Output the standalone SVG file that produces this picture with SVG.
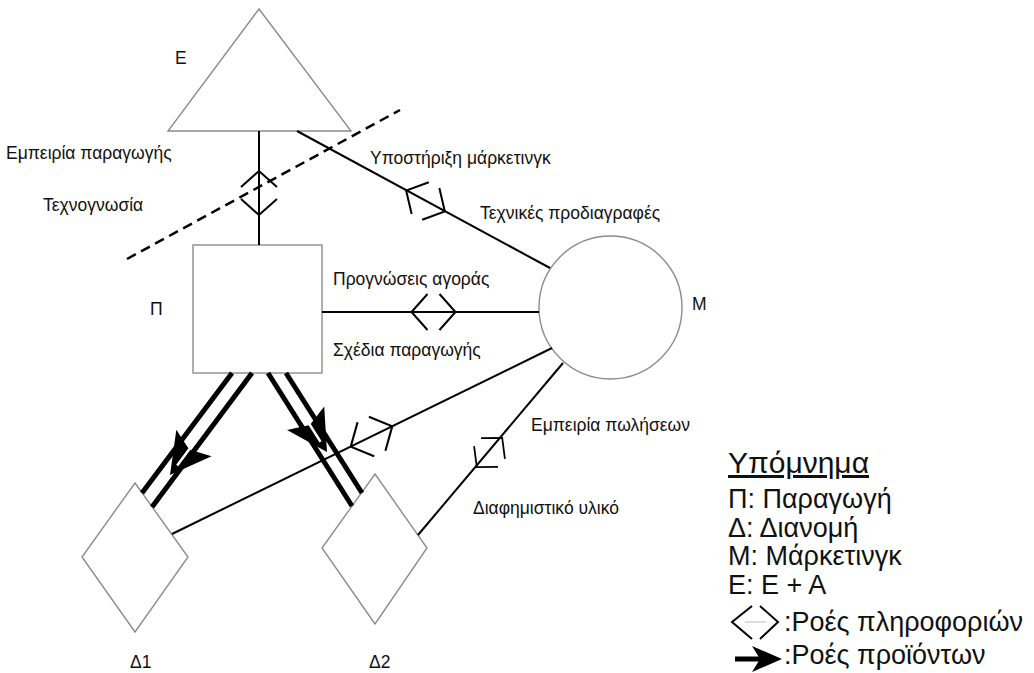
<svg xmlns="http://www.w3.org/2000/svg" width="1034" height="673" viewBox="0 0 1034 673">
<defs>
<style>
.node{fill:#fff;stroke:#8c8c8c;stroke-width:1.4}
.con{stroke:#000;stroke-width:2;fill:none}
.sym{stroke:#000;stroke-width:2;fill:none}
.thick{stroke:#000;stroke-width:5;fill:none}
.lbl{font-family:"Liberation Sans",Arial,sans-serif;font-size:17.5px;fill:#111}
.leg{font-family:"Liberation Sans",Arial,sans-serif;font-size:27px;fill:#111}
</style>
<path id="info" d="M-6,-18 L-22,0 L-6,18 M6,-18 L22,0 L6,18"/>
<path id="head" d="M0,0 L-40,-22 L-32,0 L-40,22 Z"/>
</defs>
<rect width="1034" height="673" fill="#fff"/>

<g id="node-E">
<polygon class="node" points="259,9 168,131 351,131"/>
<text class="lbl" x="175" y="64">Ε</text>
</g>
<g id="node-P">
<rect class="node" x="193" y="245" width="129" height="128"/>
<text class="lbl" x="150" y="315">Π</text>
</g>
<g id="node-M">
<circle class="node" cx="610.5" cy="307.5" r="71.5"/>
<text class="lbl" x="692" y="310">Μ</text>
</g>
<g id="node-D1">
<polygon class="node" points="135,483 188,557 135,632 82,557"/>
<text class="lbl" x="130" y="668">Δ1</text>
</g>
<g id="node-D2">
<polygon class="node" points="375,474 427,548 375,624 322,548"/>
<text class="lbl" x="369" y="668">Δ2</text>
</g>

<g id="connectors">
<line x1="127" y1="259" x2="400" y2="110" stroke="#000" stroke-width="2.5" stroke-dasharray="10,6"/>
<line class="con" x1="259" y1="131" x2="259" y2="245"/>
<line class="con" x1="297" y1="131" x2="550" y2="268"/>
<line class="con" x1="322" y1="312" x2="539" y2="312"/>
<line class="con" x1="172" y1="534" x2="552" y2="348"/>
<line class="con" x1="418" y1="535" x2="563" y2="363"/>

<use href="#info" class="sym" transform="translate(259,193) rotate(90)"/>
<use href="#info" class="sym" transform="translate(425.5,201) rotate(28.4)"/>
<use href="#info" class="sym" transform="translate(433.5,312)"/>
<use href="#info" class="sym" transform="translate(371.5,436.5) rotate(-26) scale(1.05)"/>
<use href="#info" class="sym" transform="translate(489.5,452.5) rotate(-49) scale(0.88)"/>

<line class="thick" x1="232" y1="373" x2="142" y2="493"/>
<line class="thick" x1="252" y1="373" x2="152" y2="507"/>
<use href="#head" transform="translate(170,475) rotate(126.8)"/>
<line x1="-34" y1="0" x2="-12" y2="0" stroke="#fff" stroke-width="2.5" transform="translate(170,475) rotate(126.8)"/>

<line class="thick" x1="268" y1="373" x2="352" y2="506"/>
<line class="thick" x1="286" y1="373" x2="362" y2="493"/>
<use href="#head" transform="translate(327,452) rotate(57.7)"/>
<line x1="-34" y1="0" x2="-12" y2="0" stroke="#fff" stroke-width="2.5" transform="translate(327,452) rotate(57.7)"/>
</g>

<g id="labels">
<text class="lbl" x="6" y="159">Εμπειρία παραγωγής</text>
<text class="lbl" x="43" y="211">Τεχνογνωσία</text>
<text class="lbl" x="370" y="164">Υποστήριξη μάρκετινγκ</text>
<text class="lbl" x="480" y="219">Τεχνικές προδιαγραφές</text>
<text class="lbl" x="333" y="285">Προγνώσεις αγοράς</text>
<text class="lbl" x="333" y="356">Σχέδια παραγωγής</text>
<text class="lbl" x="531" y="431">Εμπειρία πωλήσεων</text>
<text class="lbl" x="473" y="514">Διαφημιστικό υλικό</text>
</g>

<g id="legend">
<text class="leg" x="728" y="473" style="font-size:30px" text-decoration="underline">Υπόμνημα</text>
<text class="leg" x="728" y="508">Π: Παραγωγή</text>
<text class="leg" x="728" y="537">Δ: Διανομή</text>
<text class="leg" x="728" y="565">Μ: Μάρκετινγκ</text>
<text class="leg" x="728" y="594">Ε: Ε + Α</text>
<line x1="745" y1="622" x2="766" y2="622" stroke="#bbb" stroke-width="1"/>
<path class="sym" d="M752,606 L732,622 L752,639 M760,606 L778,622 L760,639"/>
<text class="leg" x="784" y="631">:Ροές πληροφοριών</text>
<line x1="735" y1="659" x2="762" y2="659" stroke="#000" stroke-width="5"/>
<path d="M782,659 L752,646 L760,659 L752,672 Z" fill="#000"/>
<text class="leg" x="784" y="664">:Ροές προϊόντων</text>
</g>
</svg>
